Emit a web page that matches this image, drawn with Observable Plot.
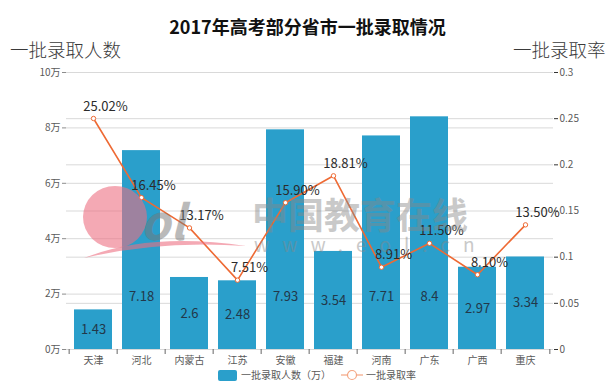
<!DOCTYPE html>
<html><head><meta charset="utf-8">
<script src="https://cdn.jsdelivr.net/npm/d3@7"></script>
<script src="https://cdn.jsdelivr.net/npm/@observablehq/plot@0.6"></script>
<style>
body{margin:0;background:#fff;}
#wrap{position:relative;width:615px;height:392px;font-family:"Noto Sans CJK SC","Noto Sans",sans-serif;overflow:hidden;}
.t{position:absolute;white-space:nowrap;line-height:1;}
#chart{position:absolute;left:0;top:0;}
#wm{position:absolute;left:0;top:0;pointer-events:none;}
</style></head><body><div id="wrap">
<div id="chart"></div>
<div class="t" style="left:0;width:615px;text-align:center;top:17px;font-size:18px;font-weight:bold;color:#111;">2017年高考部分省市一批录取情况</div>
<div class="t" style="left:10px;top:40px;font-size:18.5px;color:#3a3a3a;font-weight:300;">一批录取人数</div>
<div class="t" style="left:513px;top:40px;font-size:18.5px;color:#3a3a3a;font-weight:300;">一批录取率</div>
<div class="t" style="left:218px;top:369px;font-size:10px;color:#595959;display:flex;align-items:center;">
  <span style="display:inline-block;width:19px;height:11px;background:#2a9fcb;border-radius:2px;margin-right:4px;"></span>一批录取人数（万）
  <svg width="22" height="12" style="margin:0 3px 0 10px;"><line x1="0" y1="6" x2="22" y2="6" stroke="#f4a582" stroke-width="1.2"/><circle cx="11" cy="6" r="4.5" fill="#fff" stroke="#f4a582" stroke-width="1.2"/></svg>一批录取率
</div>
</div>
<script>
const provinces = ["天津","河北","内蒙古","江苏","安徽","福建","河南","广东","广西","重庆"];
const admitted = [1.43, 7.18, 2.6, 2.48, 7.93, 3.54, 7.71, 8.4, 2.97, 3.34];
const rates = [0.2502, 0.1645, 0.1317, 0.0751, 0.1590, 0.1881, 0.0891, 0.1150, 0.0810, 0.1350];
const rateLabels = ["25.02%","16.45%","13.17%","7.51%","15.90%","18.81%","8.91%","11.50%","8.10%","13.50%"];
const leftTicks = [0, 2, 4, 6, 8, 10];
const leftTickLabels = ["0万","2万","4万","6万","8万","10万"];
const rightTicks = [0, 0.05, 0.1, 0.15, 0.2, 0.25, 0.3];
const rightTickLabels = ["0","0.05","0.1","0.15","0.2","0.25","0.3"];
const leftMax = 10, rightMax = 0.3;

const data = provinces.map((p, i) => ({
  p, v: admitted[i], r: rates[i], rs: rates[i] * leftMax / rightMax, lab: rateLabels[i]
}));
const rightScaled = rightTicks.map(t => t * leftMax / rightMax);

const W = 615, H = 392, mL = 66, mR = 62, mT = 72, mB = 43;
const step = (W - mL - mR) / provinces.length;
const font = '"Noto Sans CJK SC","Noto Sans",sans-serif';

const chart = Plot.plot({
  width: W, height: H,
  marginLeft: mL, marginRight: mR, marginTop: mT, marginBottom: mB,
  style: {fontFamily: font, fontSize: "10px", color: "#595959", background: "transparent"},
  x: {domain: provinces, paddingInner: 0.2, paddingOuter: 0.1, label: null},
  y: {domain: [0, leftMax], label: null},
  marks: [
    Plot.ruleY(leftTicks, {stroke: "#d9d9d9"}),
    Plot.ruleY(rightScaled, {stroke: "#d9d9d9"}),
    Plot.barY(data, {x: "p", y: "v", fill: "#2a9fcb"}),
    Plot.text(data, {x: "p", y: d => Math.min(d.v / 2, 1.9), text: d => String(d.v), fill: "#22384a", fontSize: 13}),
    Plot.line(data, {x: "p", y: "rs", stroke: "#ee6a34", strokeWidth: 1.6}),
    Plot.dot(data, {x: "p", y: "rs", r: 2.2, fill: "#fff", stroke: "#ee6a34", strokeWidth: 1}),
    Plot.text(data, {x: "p", y: "rs", text: "lab", dx: 12, dy: -12, fill: "#2b2b2b", fontSize: 13}),
    Plot.axisY(leftTicks, {anchor: "left", tickSize: 4, tickPadding: 2, tickFormat: (d) => leftTickLabels[leftTicks.indexOf(d)], stroke: "#8c8c8c", label: null, line: true}),
    Plot.axisY(rightScaled, {anchor: "right", tickSize: 4, tickPadding: 2, tickFormat: (d) => rightTickLabels[rightScaled.indexOf(d)], stroke: "#333", label: null, line: true}),
    Plot.axisX({tickSize: 0, tickPadding: 7, label: null, line: true, stroke: "#666"}),
    Plot.axisX(provinces, {tickSize: 5, tickFormat: () => "", dx: -step / 2, stroke: "#666", label: null}),
    Plot.axisX([provinces[provinces.length - 1]], {tickSize: 5, tickFormat: () => "", dx: step / 2, stroke: "#666", label: null})
  ]
});
document.getElementById("chart").appendChild(chart);

// watermark (decorative, as in the reference image)
const wm = d3.select("#wrap").append("svg").attr("id", "wm").attr("width", W).attr("height", H);
wm.append("ellipse").attr("cx", 115).attr("cy", 217).attr("rx", 32).attr("ry", 31).attr("fill", "#ec6f82").attr("opacity", 0.6);
wm.append("path").attr("d", "M84,258 Q150,232 246,246 Q160,240 84,258Z").attr("fill", "#ec6f82").attr("opacity", 0.6);
wm.append("text").attr("x", 140).attr("y", 240).attr("font-size", 48).attr("font-weight", "bold").attr("font-style", "italic")
  .attr("font-family", font).attr("fill", "#777").attr("opacity", 0.5).text("ol");
wm.append("text").attr("x", 252).attr("y", 229).attr("font-size", 36).attr("font-weight", "bold")
  .attr("font-family", font).attr("fill", "#888").attr("opacity", 0.45).text("中国教育在线");
wm.append("text").attr("x", 254).attr("y", 252).attr("font-size", 19).attr("font-family", font)
  .attr("fill", "#888").attr("opacity", 0.45).attr("letter-spacing", "13px").text("www.eol.cn");
</script>
</body></html>
